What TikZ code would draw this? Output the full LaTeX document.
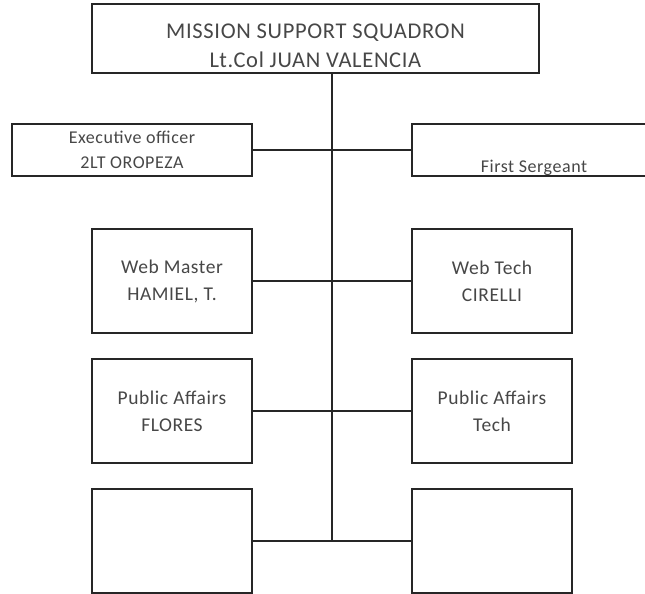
\documentclass[tikz,border=0pt]{standalone}
\usepackage{fontspec}
\setmainfont{Carlito}
\newfontfamily\widefont[LetterSpace=3]{Carlito}
\begin{document}
\begin{tikzpicture}[x=1pt,y=-1pt,
  box/.style={draw=black!85,line width=2pt,fill=white,inner sep=0pt,align=center,text=black!72},
  conn/.style={draw=black!85,line width=2pt},
  midfont/.style={font=\widefont\fontsize{18}{25}\selectfont},
  bigfont/.style={font=\widefont\fontsize{19.5}{27}\selectfont}]
\useasboundingbox (0,0) rectangle (645,594);
\begin{scope}
\clip (0,0) rectangle (645,594);
\node[box,minimum width=447pt,minimum height=69pt,
  label={[align=center,text=black!72,yshift=-7pt,font=\widefont\fontsize{22.5}{29}\selectfont]center:MISSION SUPPORT SQUADRON\\Lt.Col JUAN VALENCIA}] (top) at (315.5,38.5) {};
\node[box,minimum width=240pt,minimum height=52pt,midfont] (exec) at (132,150) {Executive officer\\2LT OROPEZA};
\node[box,minimum width=244pt,minimum height=52pt,
  label={[anchor=south,text=black!72,midfont,inner sep=1.5pt]south:First Sergeant}] (fs) at (534,150) {};
\node[box,minimum width=160pt,minimum height=104pt,bigfont] (wm) at (172,281) {Web Master\\HAMIEL, T.};
\node[box,minimum width=160pt,minimum height=104pt,bigfont] (wt) at (492,281) {Web Tech\\CIRELLI};
\node[box,minimum width=160pt,minimum height=104pt,bigfont] (pa) at (172,411) {Public Affairs\\FLORES};
\node[box,minimum width=160pt,minimum height=104pt,bigfont] (pt) at (492,411) {Public Affairs\\Tech};
\node[box,minimum width=160pt,minimum height=104pt] (b1) at (172,541) {};
\node[box,minimum width=160pt,minimum height=104pt] (b2) at (492,541) {};
\coordinate (spine) at (332,541);
\draw[conn] (top.south -| spine) -- (spine);
\draw[conn] (exec.east) -- (fs.west);
\draw[conn] (wm.east) -- (wt.west);
\draw[conn] (pa.east) -- (pt.west);
\draw[conn] (b1.east) -- (b2.west);
\end{scope}
\end{tikzpicture}
\end{document}
